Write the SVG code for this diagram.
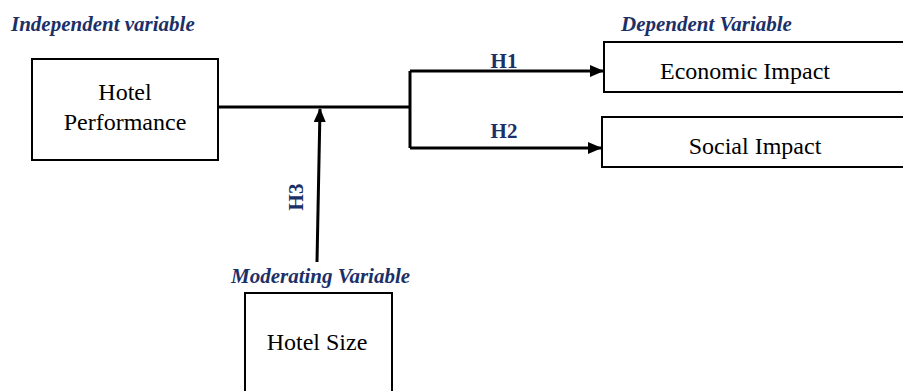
<svg xmlns="http://www.w3.org/2000/svg" width="903" height="391" viewBox="0 0 903 391">
<style>
.box{fill:#fff;stroke:#000;stroke-width:2}
.t{font-family:"Liberation Serif","Times New Roman",serif;font-size:24px;fill:#000;text-anchor:middle}
.cat{font-family:"Liberation Serif","Times New Roman",serif;font-size:21px;font-weight:bold;font-style:italic;fill:#1c3068}
.h{font-family:"Liberation Serif","Times New Roman",serif;font-size:21px;font-weight:bold;fill:#1c3068;text-anchor:middle}
.c{fill:none;stroke:#000;stroke-width:3}
</style>
<defs>
<marker id="ah" markerWidth="14" markerHeight="12" refX="13" refY="6" orient="auto" markerUnits="userSpaceOnUse">
<path d="M0,0 L14,6 L0,12 Z" fill="#000"/>
</marker>
</defs>
<rect width="903" height="391" fill="#fff"/>
<text class="cat" x="11" y="31">Independent variable</text>
<text class="cat" x="621" y="31">Dependent Variable</text>
<text class="cat" x="231" y="283">Moderating Variable</text>
<g id="connectors">
<path class="c" d="M218,107 H410"/>
<path class="c" d="M410,71 V148"/>
<path class="c" d="M410,71 H603" marker-end="url(#ah)"/>
<path class="c" d="M410,148 H601" marker-end="url(#ah)"/>
<path class="c" d="M317,262 L320,109" marker-end="url(#ah)"/>
<text class="h" x="504" y="68">H1</text>
<text class="h" x="504" y="138">H2</text>
<text class="h" transform="translate(303,197) rotate(-90)">H3</text>
</g>
<g id="hotel-performance">
<rect class="box" x="32" y="59" width="186" height="101"/>
<text class="t" x="125" y="100">Hotel</text>
<text class="t" x="125" y="130">Performance</text>
</g>
<g id="economic-impact">
<rect class="box" x="604" y="42" width="305" height="50"/>
<text class="t" x="745" y="79">Economic Impact</text>
</g>
<g id="social-impact">
<rect class="box" x="602" y="117" width="307" height="50"/>
<text class="t" x="755" y="154">Social Impact</text>
</g>
<g id="hotel-size">
<rect class="box" x="245" y="293" width="147" height="110"/>
<text class="t" x="317" y="350">Hotel Size</text>
</g>
</svg>
